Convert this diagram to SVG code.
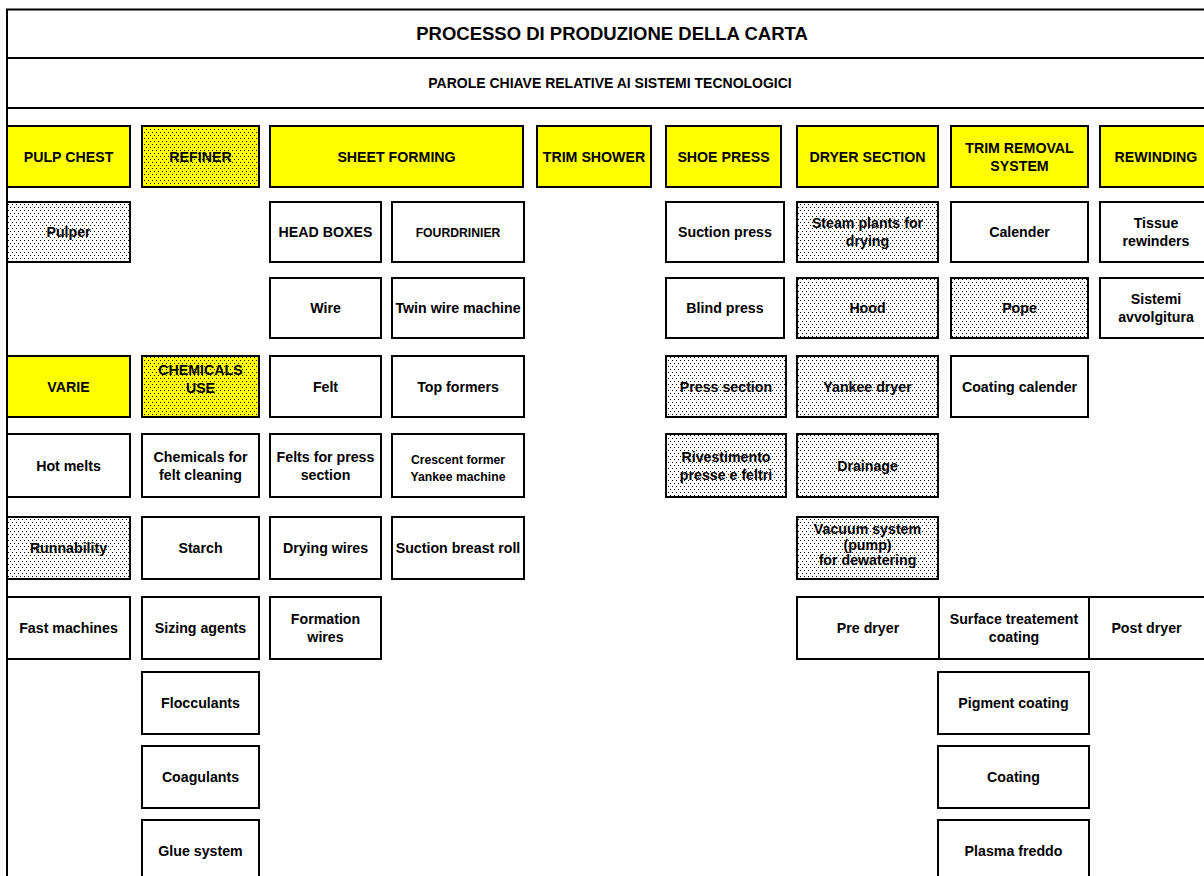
<svg xmlns="http://www.w3.org/2000/svg" width="1204" height="876" viewBox="0 0 1204 876">
<style>
.b{fill:#fff;stroke:#000;stroke-width:2}
.y{fill:#ffff00;stroke:#000;stroke-width:2}
.d{fill:url(#dots);stroke:#000;stroke-width:2}
.yd{fill:url(#ydots);stroke:#000;stroke-width:2}
.fr{stroke:#000;stroke-width:2;fill:none}
text{font-family:"Liberation Sans",Arial,Helvetica,sans-serif;font-weight:bold;font-size:14.2px;text-anchor:middle;fill:#000}
.s{font-size:12.2px}
.tt{font-size:18.5px}
.st{font-size:14px}
</style>
<defs>
<pattern id="dots" width="4" height="6" patternUnits="userSpaceOnUse">
<rect width="4" height="6" fill="#fff"/>
<rect x="0" y="0" width="1" height="1" fill="#000"/>
<rect x="2" y="3" width="1" height="1" fill="#000"/>
</pattern>
<pattern id="ydots" width="4" height="6" patternUnits="userSpaceOnUse">
<rect width="4" height="6" fill="#ffff00"/>
<rect x="0" y="0" width="1" height="1" fill="#000"/>
<rect x="2" y="3" width="1" height="1" fill="#000"/>
</pattern>
</defs>
<rect width="1204" height="876" fill="#fff"/>
<g id="frame">
<path class="fr" d="M7,876 V9.5 H1204 M7,58 H1204 M7,108 H1204"/>
<text class="tt" x="612" y="40">PROCESSO DI PRODUZIONE DELLA CARTA</text>
<text class="st" x="610" y="88">PAROLE CHIAVE RELATIVE AI SISTEMI TECNOLOGICI</text>
</g>
<g id="connectors"></g>
<!-- headers -->
<g id="h-pulp"><rect class="y" x="7" y="126" width="123" height="61"/><text x="68.5" y="161.5">PULP CHEST</text></g>
<g id="h-refiner"><rect class="yd" x="142" y="126" width="117" height="61"/><text x="200.5" y="161.5">REFINER</text></g>
<g id="h-sheet"><rect class="y" x="270" y="126" width="253" height="61"/><text x="396.5" y="161.5">SHEET FORMING</text></g>
<g id="h-trimshower"><rect class="y" x="537" y="126" width="114" height="61"/><text x="594" y="161.5">TRIM SHOWER</text></g>
<g id="h-shoe"><rect class="y" x="666" y="126" width="115" height="61"/><text x="723.5" y="161.5">SHOE PRESS</text></g>
<g id="h-dryer"><rect class="y" x="797" y="126" width="141" height="61"/><text x="867.5" y="161.5">DRYER SECTION</text></g>
<g id="h-trimremoval"><rect class="y" x="951" y="126" width="137" height="61"/><text x="1019.5" y="152.5">TRIM REMOVAL</text><text x="1019.5" y="170.5">SYSTEM</text></g>
<g id="h-rewinding"><rect class="y" x="1100" y="126" width="110" height="61"/><text x="1156" y="161.5">REWINDING</text></g>
<!-- row 1 -->
<g id="pulper"><rect class="d" x="7" y="202" width="123" height="60"/><text x="68.5" y="237">Pulper</text></g>
<g id="headboxes"><rect class="b" x="270" y="202" width="111" height="60"/><text x="325.5" y="237">HEAD BOXES</text></g>
<g id="fourdrinier"><rect class="b" x="392" y="202" width="132" height="60"/><text class="s" x="458" y="236.5">FOURDRINIER</text></g>
<g id="suctionpress"><rect class="b" x="666" y="202" width="118" height="60"/><text x="725" y="237">Suction press</text></g>
<g id="steam"><rect class="d" x="797" y="202" width="141" height="60"/><text x="867.5" y="228">Steam plants for</text><text x="867.5" y="246">drying</text></g>
<g id="calender"><rect class="b" x="951" y="202" width="137" height="60"/><text x="1019.5" y="237">Calender</text></g>
<g id="tissue"><rect class="b" x="1100" y="202" width="110" height="60"/><text x="1156" y="228">Tissue</text><text x="1156" y="246">rewinders</text></g>
<!-- row 2 -->
<g id="wire"><rect class="b" x="270" y="278" width="111" height="60"/><text x="325.5" y="313">Wire</text></g>
<g id="twinwire"><rect class="b" x="392" y="278" width="132" height="60"/><text x="458" y="313">Twin wire machine</text></g>
<g id="blindpress"><rect class="b" x="666" y="278" width="118" height="60"/><text x="725" y="313">Blind press</text></g>
<g id="hood"><rect class="d" x="797" y="278" width="141" height="60"/><text x="867.5" y="313">Hood</text></g>
<g id="pope"><rect class="d" x="951" y="278" width="137" height="60"/><text x="1019.5" y="313">Pope</text></g>
<g id="sistemi"><rect class="b" x="1100" y="278" width="110" height="60"/><text x="1156" y="304">Sistemi</text><text x="1156" y="322">avvolgitura</text></g>
<!-- row 3 -->
<g id="varie"><rect class="y" x="7" y="356" width="123" height="61"/><text x="68.5" y="391.5">VARIE</text></g>
<g id="chemicals"><rect class="yd" x="142" y="356" width="117" height="61"/><text x="200.5" y="374.5">CHEMICALS</text><text x="200.5" y="392.5">USE</text></g>
<g id="felt"><rect class="b" x="270" y="356" width="111" height="61"/><text x="325.5" y="391.5">Felt</text></g>
<g id="topformers"><rect class="b" x="392" y="356" width="132" height="61"/><text x="458" y="391.5">Top formers</text></g>
<g id="presssection"><rect class="d" x="666" y="356" width="120" height="61"/><text x="726" y="391.5">Press section</text></g>
<g id="yankee"><rect class="d" x="797" y="356" width="141" height="61"/><text x="867.5" y="391.5">Yankee dryer</text></g>
<g id="coatingcal"><rect class="b" x="951" y="356" width="137" height="61"/><text x="1019.5" y="391.5">Coating calender</text></g>
<!-- row 4 -->
<g id="hotmelts"><rect class="b" x="7" y="434" width="123" height="63"/><text x="68.5" y="471">Hot melts</text></g>
<g id="chemfelt"><rect class="b" x="142" y="434" width="117" height="63"/><text x="200.5" y="461.5">Chemicals for</text><text x="200.5" y="479.5">felt cleaning</text></g>
<g id="feltspress"><rect class="b" x="270" y="434" width="111" height="63"/><text x="325.5" y="461.5">Felts for press</text><text x="325.5" y="479.5">section</text></g>
<g id="crescent"><rect class="b" x="392" y="434" width="132" height="63"/><text class="s" x="458" y="464">Crescent former</text><text class="s" x="458" y="481">Yankee machine</text></g>
<g id="rivestimento"><rect class="d" x="666" y="434" width="120" height="63"/><text x="726" y="461.5">Rivestimento</text><text x="726" y="479.5">presse e feltri</text></g>
<g id="drainage"><rect class="d" x="797" y="434" width="141" height="63"/><text x="867.5" y="471">Drainage</text></g>
<!-- row 5 -->
<g id="runnability"><rect class="d" x="7" y="517" width="123" height="62"/><text x="68.5" y="553">Runnability</text></g>
<g id="starch"><rect class="b" x="142" y="517" width="117" height="62"/><text x="200.5" y="553">Starch</text></g>
<g id="dryingwires"><rect class="b" x="270" y="517" width="111" height="62"/><text x="325.5" y="553">Drying wires</text></g>
<g id="suctionbreast"><rect class="b" x="392" y="517" width="132" height="62"/><text x="458" y="553">Suction breast roll</text></g>
<g id="vacuum"><rect class="d" x="797" y="517" width="141" height="62"/><text x="867.5" y="534">Vacuum system</text><text x="867.5" y="549.5">(pump)</text><text x="867.5" y="565">for dewatering</text></g>
<!-- row 6 -->
<g id="fastmachines"><rect class="b" x="7" y="597" width="123" height="62"/><text x="68.5" y="633">Fast machines</text></g>
<g id="sizing"><rect class="b" x="142" y="597" width="117" height="62"/><text x="200.5" y="633">Sizing agents</text></g>
<g id="formation"><rect class="b" x="270" y="597" width="111" height="62"/><text x="325.5" y="624">Formation</text><text x="325.5" y="642">wires</text></g>
<g id="predryer"><rect class="b" x="797" y="597" width="142" height="62"/><text x="868" y="633">Pre dryer</text></g>
<g id="surface"><rect class="b" x="939" y="597" width="150" height="62"/><text x="1014" y="624">Surface treatement</text><text x="1014" y="642">coating</text></g>
<g id="postdryer"><rect class="b" x="1089" y="597" width="121" height="62"/><text x="1146.5" y="633">Post dryer</text></g>
<!-- row 7 -->
<g id="flocculants"><rect class="b" x="142" y="672" width="117" height="62"/><text x="200.5" y="708">Flocculants</text></g>
<g id="pigment"><rect class="b" x="938" y="672" width="151" height="62"/><text x="1013.5" y="708">Pigment coating</text></g>
<!-- row 8 -->
<g id="coagulants"><rect class="b" x="142" y="746" width="117" height="62"/><text x="200.5" y="782">Coagulants</text></g>
<g id="coating"><rect class="b" x="938" y="746" width="151" height="62"/><text x="1013.5" y="782">Coating</text></g>
<!-- row 9 -->
<g id="glue"><rect class="b" x="142" y="820" width="117" height="70"/><text x="200.5" y="856">Glue system</text></g>
<g id="plasma"><rect class="b" x="938" y="820" width="151" height="70"/><text x="1013.5" y="856">Plasma freddo</text></g>
</svg>
